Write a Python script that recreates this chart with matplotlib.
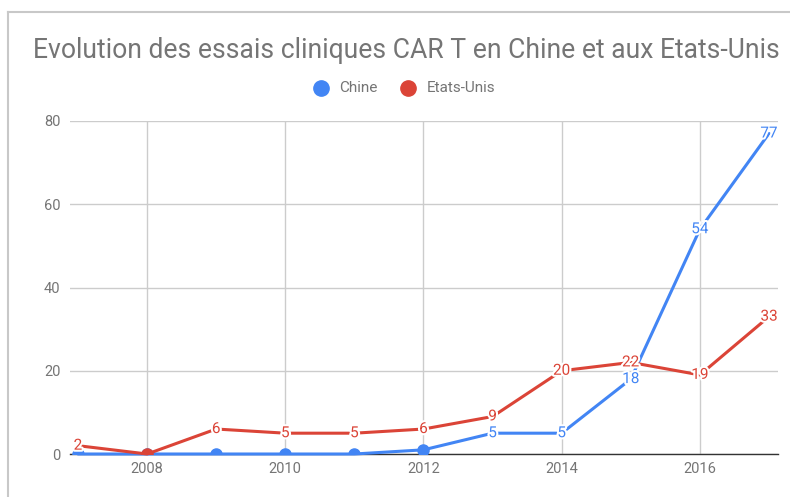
import matplotlib
matplotlib.use("Agg")
import matplotlib.pyplot as plt
import matplotlib.patheffects as pe
from matplotlib.lines import Line2D

years = [2007, 2008, 2009, 2010, 2011, 2012, 2013, 2014, 2015, 2016, 2017]
chine = [0, 0, 0, 0, 0, 1, 5, 5, 18, 54, 77]
usa = [2, 0, 6, 5, 5, 6, 9, 20, 22, 19, 33]
chine_labelled = [False, False, False, False, False, False, True, True, True, True, True]
usa_labelled = [True, False, True, True, True, True, True, True, True, True, True]

title = "Evolution des essais cliniques CAR T en Chine et aux Etats-Unis"
series_names = ["Chine", "Etats-Unis"]
blue = "#4285F4"
red = "#DB4437"
gray = "#757575"

plt.rcParams['font.family'] = ['Roboto', 'DejaVu Sans']

fig = plt.figure(figsize=(7.9, 4.97), dpi=100)
ax = fig.add_axes([70/790, 1-454/497, (778-70)/790, (454-121)/497])

ax.set_xlim(2007 - 8/69, 2017 + 9/69)
ax.set_ylim(0, 80)
ax.set_yticks([0, 20, 40, 60, 80])
ax.set_xticks([2008, 2010, 2012, 2014, 2016])
ax.grid(True, color="#cccccc", linewidth=1)
ax.set_axisbelow(True)
for s in ["top", "right", "left"]:
    ax.spines[s].set_visible(False)
ax.spines["bottom"].set_color("#333333")
ax.spines["bottom"].set_linewidth(1)
ax.tick_params(length=0, labelsize=10.5, colors=gray, pad=6)
ax.tick_params(axis='y', pad=7)

def draw(vals, flags, color, z):
    ax.plot(years, vals, color=color, linewidth=2.2, zorder=z, clip_on=False,
            solid_capstyle='round')
    for x, v, f in zip(years, vals, flags):
        if f:
            ax.text(x, v, str(v), color=color, fontsize=11, ha="center", va="center",
                    zorder=z + 1,
                    path_effects=[pe.withStroke(linewidth=3, foreground="white")])
        else:
            ax.plot([x], [v], marker="o", markersize=8, color=color, zorder=z + 1,
                    clip_on=True)

draw(chine, chine_labelled, blue, 3)
draw(usa, usa_labelled, red, 5)

fig.text(406/790, 1-50/497, title, ha="center", va="center", fontsize=19.1, color=gray)

# legend
leg_y = 1 - 88/497
for name, color, cx, tx in [(series_names[0], blue, 321, 339), (series_names[1], red, 408, 427)]:
    fig.add_artist(Line2D([cx/790], [leg_y], marker="o", markersize=11, color=color,
                          linestyle="", transform=fig.transFigure))
    fig.text(tx/790, leg_y, name, ha="left", va="center", fontsize=11, color=gray)

# screenshot frame
fig.add_artist(Line2D([8/790, 1], [1-12/497, 1-12/497], color="#c8c8c8", linewidth=1.5,
                      transform=fig.transFigure))
fig.add_artist(Line2D([8/790, 8/790], [0, 1-12/497], color="#c8c8c8", linewidth=1.5,
                      transform=fig.transFigure))

fig.savefig("out.png", dpi=100)
